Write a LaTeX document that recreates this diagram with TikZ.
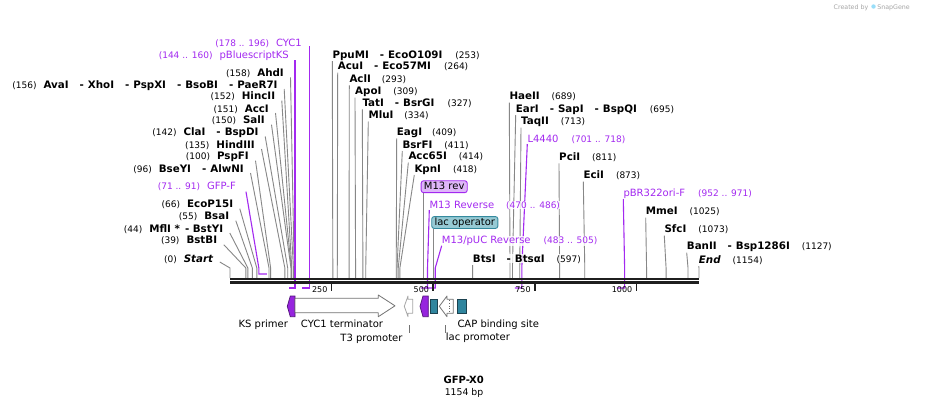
\documentclass[tikz,border=0pt]{standalone}
\usepackage{fontspec}
\setmainfont{DejaVu Sans}
\usetikzlibrary{backgrounds}

\definecolor{primer}{RGB}{163,41,240}
\definecolor{cutgray}{RGB}{135,135,135}
\definecolor{revfill}{RGB}{222,182,248}
\definecolor{opfill}{RGB}{150,202,212}
\definecolor{opdraw}{RGB}{52,138,158}
\definecolor{capfill}{RGB}{47,133,158}
\definecolor{capdraw}{RGB}{28,66,80}
\definecolor{ksfill}{RGB}{150,36,222}

\newcommand{\atbp}[1]{{230+0.40641*#1}}
\newcommand{\Cut}[1]{{\fontsize{10.3}{12}\selectfont\bfseries #1}}
\newcommand{\Pos}[1]{{\fontsize{9}{11}\selectfont #1}}
\newcommand{\Feat}[1]{{\fontsize{10}{12}\selectfont #1}}
\newcommand{\Also}{\hspace{11pt}-\hspace{4pt}}

\begin{document}
\begin{tikzpicture}[x=1pt,y=-1pt]
	\tikzstyle{LeftCut}=[inner sep=0pt,anchor=base east,fill=white,fill opacity=0.8,text opacity=1]
	\tikzstyle{RightCut}=[inner sep=0pt,anchor=base west,fill=white,fill opacity=0.8,text opacity=1]
	\tikzstyle{PrimerText}=[text=primer]
	\tikzstyle{CutLine}=[draw=cutgray,line width=0.9pt]
	\tikzstyle{PrimerLine}=[draw=primer,line width=1.1pt]
	\tikzstyle{FeatBox}=[rounded corners=2.5pt,inner xsep=2.8pt,inner ysep=1.3pt,line width=0.9pt,text height=7.3pt,text depth=2pt,font=\fontsize{10}{12}\selectfont]
	\tikzstyle{FeatArrow}=[draw=black!55,fill=white,line width=0.8pt,line join=round]
	\tikzstyle{FeatLabel}=[inner sep=0pt,anchor=base,font=\fontsize{10}{12}\selectfont]
	\tikzstyle{Leader}=[draw=black!55,line width=0.8pt]
	\tikzstyle{Tick}=[draw=black!88,line width=1.6pt]
	\tikzstyle{TickLabel}=[inner sep=0pt,anchor=base east,font=\fontsize{8}{10}\selectfont]
	\tikzstyle{Backbone}=[draw=black!88,line width=2.4pt]

	\begin{scope}[on background layer]
		\fill[white] (0,0) rectangle (929,408);
	\end{scope}
	\useasboundingbox (0,0) rectangle (929,408);

	% sites on the backbone
	\coordinate (c0) at (\atbp{0},278);
	\coordinate (c39) at (\atbp{39},278);
	\coordinate (c44) at (\atbp{44},278);
	\coordinate (c55) at (\atbp{55},278);
	\coordinate (c66) at (\atbp{66},278);
	\coordinate (c96) at (\atbp{96},278);
	\coordinate (c100) at (\atbp{100},278);
	\coordinate (c135) at (\atbp{135},278);
	\coordinate (c142) at (\atbp{142},278);
	\coordinate (c150) at (\atbp{150},278);
	\coordinate (c151) at (\atbp{151},278);
	\coordinate (c152) at (\atbp{152},278);
	\coordinate (c156) at (\atbp{156},278);
	\coordinate (c158) at (\atbp{158},278);
	\coordinate (c253) at (\atbp{253},278);
	\coordinate (c264) at (\atbp{264},278);
	\coordinate (c293) at (\atbp{293},278);
	\coordinate (c309) at (\atbp{309},278);
	\coordinate (c327) at (\atbp{327},278);
	\coordinate (c334) at (\atbp{334},278);
	\coordinate (c409) at (\atbp{409},278);
	\coordinate (c411) at (\atbp{411},278);
	\coordinate (c414) at (\atbp{414},278);
	\coordinate (c418) at (\atbp{418},278);
	\coordinate (c597) at (\atbp{597},278);
	\coordinate (c689) at (\atbp{689},278);
	\coordinate (c695) at (\atbp{695},278);
	\coordinate (c713) at (\atbp{713},278);
	\coordinate (c811) at (\atbp{811},278);
	\coordinate (c873) at (\atbp{873},278);
	\coordinate (c1025) at (\atbp{1025},278);
	\coordinate (c1073) at (\atbp{1073},278);
	\coordinate (c1127) at (\atbp{1127},278);
	\coordinate (c1154) at (\atbp{1154},278);
	\coordinate (f423) at (423.3,278);
	\coordinate (f433) at (433.3,278);
	% primer ends
	\coordinate (p71) at (\atbp{71},274);
	\coordinate (p91) at (\atbp{91},274);
	\coordinate (p144) at (\atbp{144},288);
	\coordinate (p160) at (\atbp{160},288);
	\coordinate (p178) at (\atbp{178},288);
	\coordinate (p196) at (\atbp{196},288);
	\coordinate (p470) at (\atbp{470},288);
	\coordinate (p486) at (\atbp{486},288);
	\coordinate (p483) at (\atbp{483},288);
	\coordinate (p505) at (\atbp{505},288);
	\coordinate (p701) at (\atbp{701},288);
	\coordinate (p718) at (\atbp{718},288);
	\coordinate (p952) at (\atbp{952},288);
	\coordinate (p971) at (\atbp{971},288);

	% labels on the left
	\node[LeftCut,PrimerText] (cyc1) at (302,46.4) {\Pos{(178 .. 196)}\hspace{7pt}\Feat{CYC1}};
	\node[LeftCut,PrimerText] (pbks) at (289,58) {\Pos{(144 .. 160)}\hspace{7pt}\Feat{pBluescriptKS}};
	\node[LeftCut] (ahdi) at (284,76.4) {\Pos{(158)}\hspace{7pt}\Cut{AhdI}};
	\node[LeftCut] (avai) at (277.7,88) {\Pos{(156)}\hspace{7pt}\Cut{AvaI\Also XhoI\Also PspXI\Also BsoBI\Also PaeR7I}};
	\node[LeftCut] (hincii) at (275.3,99.7) {\Pos{(152)}\hspace{7pt}\Cut{HincII}};
	\node[LeftCut] (acci) at (269,112) {\Pos{(151)}\hspace{7pt}\Cut{AccI}};
	\node[LeftCut] (sali) at (265,123.7) {\Pos{(150)}\hspace{7pt}\Cut{SalI}};
	\node[LeftCut] (clai) at (258.7,135.4) {\Pos{(142)}\hspace{7pt}\Cut{ClaI\Also BspDI}};
	\node[LeftCut] (hindiii) at (255,148) {\Pos{(135)}\hspace{7pt}\Cut{HindIII}};
	\node[LeftCut] (pspfi) at (249,159.7) {\Pos{(100)}\hspace{7pt}\Cut{PspFI}};
	\node[LeftCut] (bseyi) at (244,172) {\Pos{(96)}\hspace{7pt}\Cut{BseYI\Also AlwNI}};
	\node[LeftCut,PrimerText] (gfpf) at (236,189.7) {\Pos{(71 .. 91)}\hspace{7pt}\Feat{GFP-F}};
	\node[LeftCut] (ecop15i) at (233.3,207.7) {\Pos{(66)}\hspace{7pt}\Cut{EcoP15I}};
	\node[LeftCut] (bsai) at (229.3,219.7) {\Pos{(55)}\hspace{7pt}\Cut{BsaI}};
	\node[LeftCut] (mfli) at (223.3,232) {\Pos{(44)}\hspace{7pt}\Cut{MflI *\hspace{5pt}- BstYI}};
	\node[LeftCut] (bstbi) at (217.3,243.7) {\Pos{(39)}\hspace{7pt}\Cut{BstBI}};
	\node[LeftCut] (start) at (213.3,262) {\Pos{(0)}\hspace{7pt}\Cut{\itshape Start}};

	% labels on the right
	\node[RightCut] (ppumi) at (332.3,58) {\Cut{PpuMI\Also EcoO109I}\hspace{13pt}\Pos{(253)}};
	\node[RightCut] (acui) at (337.7,69.7) {\Cut{AcuI\Also Eco57MI}\hspace{13pt}\Pos{(264)}};
	\node[RightCut] (acli) at (349.3,82.4) {\Cut{AclI}\hspace{11pt}\Pos{(293)}};
	\node[RightCut] (apoi) at (355,94.7) {\Cut{ApoI}\hspace{12pt}\Pos{(309)}};
	\node[RightCut] (tati) at (362.3,106.4) {\Cut{TatI\Also BsrGI}\hspace{13pt}\Pos{(327)}};
	\node[RightCut] (mlui) at (368.3,118.7) {\Cut{MluI}\hspace{11pt}\Pos{(334)}};
	\node[RightCut] (eagi) at (396.7,135.4) {\Cut{EagI}\hspace{10pt}\Pos{(409)}};
	\node[RightCut] (bsrfi) at (402.3,148) {\Cut{BsrFI}\hspace{12pt}\Pos{(411)}};
	\node[RightCut] (acc65i) at (408.3,159.7) {\Cut{Acc65I}\hspace{12pt}\Pos{(414)}};
	\node[RightCut] (kpni) at (414.3,172) {\Cut{KpnI}\hspace{12pt}\Pos{(418)}};
	\node[FeatBox,fill=revfill,draw=primer] (m13rev) at (444.2,186.7) {M13 rev};
	\node[RightCut,PrimerText] (m13r) at (429.3,208) {\Feat{M13 Reverse}\hspace{12pt}\Pos{(470 .. 486)}};
	\node[FeatBox,fill=opfill,draw=opdraw] (lacop) at (464.8,222.5) {lac operator};
	\node[RightCut,PrimerText] (m13puc) at (441.7,243.7) {\Feat{M13/pUC Reverse}\hspace{13pt}\Pos{(483 .. 505)}};
	\node[RightCut] (btsi) at (472.7,262) {\Cut{BtsI\Also BtsαI}\hspace{12pt}\Pos{(597)}};
	\node[RightCut] (haeii) at (509.3,99.7) {\Cut{HaeII}\hspace{12pt}\Pos{(689)}};
	\node[RightCut] (eari) at (515.7,112) {\Cut{EarI\Also SapI\Also BspQI}\hspace{13pt}\Pos{(695)}};
	\node[RightCut] (taqii) at (521,124.7) {\Cut{TaqII}\hspace{12pt}\Pos{(713)}};
	\node[RightCut,PrimerText] (l4440) at (527.3,142) {\Feat{L4440}\hspace{13pt}\Pos{(701 .. 718)}};
	\node[RightCut] (pcii) at (559,160.4) {\Cut{PciI}\hspace{12pt}\Pos{(811)}};
	\node[RightCut] (ecii) at (583.3,178.7) {\Cut{EciI}\hspace{12pt}\Pos{(873)}};
	\node[RightCut,PrimerText] (pbr) at (623.3,196) {\Feat{pBR322ori-F}\hspace{13pt}\Pos{(952 .. 971)}};
	\node[RightCut] (mmei) at (645.7,214.7) {\Cut{MmeI}\hspace{12pt}\Pos{(1025)}};
	\node[RightCut] (sfci) at (664.3,232.7) {\Cut{SfcI}\hspace{12pt}\Pos{(1073)}};
	\node[RightCut] (banii) at (686.7,249.7) {\Cut{BanII\Also Bsp1286I}\hspace{12pt}\Pos{(1127)}};
	\node[RightCut] (end) at (698.7,263) {\Cut{\itshape End}\hspace{12pt}\Pos{(1154)}};

	\begin{scope}[on background layer]
		\draw[CutLine] ([shift={(6.5,1)}]ahdi.base east) -- ([yshift=10pt]c158) -- (c158);
		\draw[CutLine] ([shift={(6.5,1)}]avai.base east) -- ([yshift=10pt]c156) -- (c156);
		\draw[CutLine] ([shift={(6.5,1)}]hincii.base east) -- ([yshift=10pt]c152) -- (c152);
		\draw[CutLine] ([shift={(6.5,1)}]acci.base east) -- ([yshift=10pt]c151) -- (c151);
		\draw[CutLine] ([shift={(6.5,1)}]sali.base east) -- ([yshift=10pt]c150) -- (c150);
		\draw[CutLine] ([shift={(6.5,1)}]clai.base east) -- ([yshift=10pt]c142) -- (c142);
		\draw[CutLine] ([shift={(6.5,1)}]hindiii.base east) -- ([yshift=10pt]c135) -- (c135);
		\draw[CutLine] ([shift={(6.5,1)}]pspfi.base east) -- ([yshift=10pt]c100) -- (c100);
		\draw[CutLine] ([shift={(6.5,1)}]bseyi.base east) -- ([yshift=10pt]c96) -- (c96);
		\draw[CutLine] ([shift={(6.5,1)}]ecop15i.base east) -- ([yshift=10pt]c66) -- (c66);
		\draw[CutLine] ([shift={(6.5,1)}]bsai.base east) -- ([yshift=10pt]c55) -- (c55);
		\draw[CutLine] ([shift={(6.5,1)}]mfli.base east) -- ([yshift=10pt]c44) -- (c44);
		\draw[CutLine] ([shift={(6.5,1)}]bstbi.base east) -- ([yshift=10pt]c39) -- (c39);
		\draw[CutLine] ([shift={(6.5,0)}]start.base east) -- ([yshift=10pt]c0) -- (c0);
		\draw[CutLine] ([yshift=-3pt]ppumi.base west) -- ([yshift=10pt]c253) -- (c253);
		\draw[CutLine] ([yshift=-3pt]acui.base west) -- ([yshift=10pt]c264) -- (c264);
		\draw[CutLine] ([yshift=-3pt]acli.base west) -- ([yshift=10pt]c293) -- (c293);
		\draw[CutLine] ([yshift=-3pt]apoi.base west) -- ([yshift=10pt]c309) -- (c309);
		\draw[CutLine] ([yshift=-3pt]tati.base west) -- ([yshift=10pt]c327) -- (c327);
		\draw[CutLine] ([yshift=-3pt]mlui.base west) -- ([yshift=10pt]c334) -- (c334);
		\draw[CutLine] ([yshift=-3pt]eagi.base west) -- ([yshift=10pt]c409) -- (c409);
		\draw[CutLine] ([yshift=-3pt]bsrfi.base west) -- ([yshift=10pt]c411) -- (c411);
		\draw[CutLine] ([yshift=-3pt]acc65i.base west) -- ([yshift=10pt]c414) -- (c414);
		\draw[CutLine] ([yshift=-3pt]kpni.base west) -- ([yshift=10pt]c418) -- (c418);
		\draw[CutLine] ([yshift=-3pt]btsi.base west) -- ([yshift=10pt]c597) -- (c597);
		\draw[CutLine] ([yshift=-3pt]haeii.base west) -- ([yshift=10pt]c689) -- (c689);
		\draw[CutLine] ([yshift=-3pt]eari.base west) -- ([yshift=10pt]c695) -- (c695);
		\draw[CutLine] ([yshift=-3pt]taqii.base west) -- ([yshift=10pt]c713) -- (c713);
		\draw[CutLine] ([yshift=-3pt]pcii.base west) -- ([yshift=10pt]c811) -- (c811);
		\draw[CutLine] ([yshift=-3pt]ecii.base west) -- ([yshift=10pt]c873) -- (c873);
		\draw[CutLine] ([yshift=-3pt]mmei.base west) -- ([yshift=10pt]c1025) -- (c1025);
		\draw[CutLine] ([yshift=-3pt]sfci.base west) -- ([yshift=10pt]c1073) -- (c1073);
		\draw[CutLine] ([yshift=-3pt]banii.base west) -- ([yshift=10pt]c1127) -- (c1127);
		\draw[CutLine] ([yshift=-3pt]end.base west) -- ([yshift=10pt]c1154) -- (c1154);
		\draw[CutLine] (f423 |- m13rev.south) -- (f423);
		\draw[CutLine] (f433 |- lacop.south) -- (f433);
		% primers
		\draw[PrimerLine] (p196 |- cyc1.base) -- (p196) -- (p178);
		\draw[PrimerLine] (p160 |- pbks.south) -- (p160) -- (p144);
		\draw[PrimerLine] ([shift={(10,2)}]gfpf.base east) -- ([yshift=6pt]p71) -- (p71) -- (p91);
		\draw[PrimerLine] ([yshift=-2pt]m13r.base west) -- ([yshift=20pt]p486) -- (p486) -- (p470);
		\draw[PrimerLine] ([yshift=-2pt]m13puc.base west) -- ([yshift=20pt]p505) -- (p505) -- (p483);
		\draw[PrimerLine] ([yshift=-2pt]l4440.base west) -- ([yshift=20pt]p718) -- (p718) -- (p701);
		\draw[PrimerLine] ([yshift=-3pt]pbr.base west) -- ([yshift=20pt]p971) -- (p971) -- (p952);
	\end{scope}

	% ruler
	\coordinate (t250) at (\atbp{250},284.3);
	\coordinate (t500) at (\atbp{500},284.3);
	\coordinate (t750) at (\atbp{750},284.3);
	\coordinate (t1000) at (\atbp{1000},284.3);
	\draw[Tick] (t250) -- ++(0,7);
	\draw[Tick] (t500) -- ++(0,7);
	\draw[Tick] (t750) -- ++(0,7);
	\draw[Tick] (t1000) -- ++(0,7);
	\node[TickLabel] (l250) at ([shift={(-4,8)}]t250) {250};
	\node[TickLabel] (l500) at ([shift={(-4,8)}]t500) {500};
	\node[TickLabel] (l750) at ([shift={(-4,8)}]t750) {750};
	\node[TickLabel] (l1000) at ([shift={(-4,8)}]t1000) {1000};

	% backbone
	\coordinate (bb0) at (230,280.8);
	\coordinate (bb1) at (699,280.8);
	\draw[Backbone] ([yshift=2pt]bb0) -- ([yshift=2pt]bb1);
	\draw[Backbone,line width=3pt] ([yshift=-2pt]bb0) -- ([yshift=-2pt]bb1);

	% features
	\filldraw[fill=ksfill,draw=ksfill!55!black,line width=0.7pt] (295,296) -- (290.3,296) -- (287.3,306.3) -- (290.3,316.7) -- (295,316.7) -- cycle;
	\draw[FeatArrow] (295,298.3) -- (378.3,298.3) -- (378.3,295) -- (395,305.8) -- (378.3,316.7) -- (378.3,312.7) -- (295,312.7) -- cycle;
	\draw[FeatArrow,draw=black!35] (412.7,299.3) -- (408,299.3) -- (408,296) -- (404.3,306.3) -- (408,316.7) -- (408,313.3) -- (412.7,313.3) -- cycle;
	\filldraw[fill=ksfill,draw=ksfill!55!black,line width=0.7pt] (428.3,296) -- (423,296) -- (420,306.3) -- (423,316.7) -- (428.3,316.7) -- cycle;
	\filldraw[fill=capfill,draw=capdraw,line width=0.7pt] (430.7,299.3) rectangle (437.3,313.3);
	\draw[FeatArrow] (453.3,299.3) -- (447,299.3) -- (447,296) -- (439.3,306.3) -- (447,316.7) -- (447,313.3) -- (453.3,313.3) -- cycle;
	\draw[black!60,line width=0.7pt,dotted] (449.6,300.3) -- (449.6,312.3);
	\filldraw[fill=capfill,draw=capdraw,line width=0.7pt] (457.3,299.3) rectangle (466.7,313.3);

	\node[FeatLabel] (ks) at (263.3,327.5) {KS primer};
	\node[FeatLabel] (term) at (342,327.5) {CYC1 terminator};
	\node[FeatLabel,anchor=base east] (t3lbl) at (402.7,341) {T3 promoter};
	\node[FeatLabel,anchor=base west] (laclbl) at (445.7,340.7) {lac promoter};
	\node[FeatLabel,anchor=base west] (cap) at (457.3,327.5) {CAP binding site};
	\coordinate (t3) at (409,325);
	\coordinate (lacp) at (445.7,325);
	\draw[Leader] (t3) -- ++(0,8.3);
	\draw[Leader] (lacp) -- ++(0,8.3);

	% name of the map
	\node[font=\fontsize{10}{12}\selectfont\bfseries,inner sep=0pt] (title) at (463.7,380) {GFP-X0};
	\node[font=\fontsize{9.3}{11}\selectfont,inner sep=0pt] (size) at (464,393.3) {1154 bp};

	\node[anchor=base east,inner sep=0pt,text=black!35,font=\fontsize{6.3}{7}\selectfont] (credit) at (910,9.3) {Created by\hspace{9pt}SnapGene};
	\fill[cyan!40] (873.5,6.5) circle (2.2pt);
\end{tikzpicture}
\end{document}
